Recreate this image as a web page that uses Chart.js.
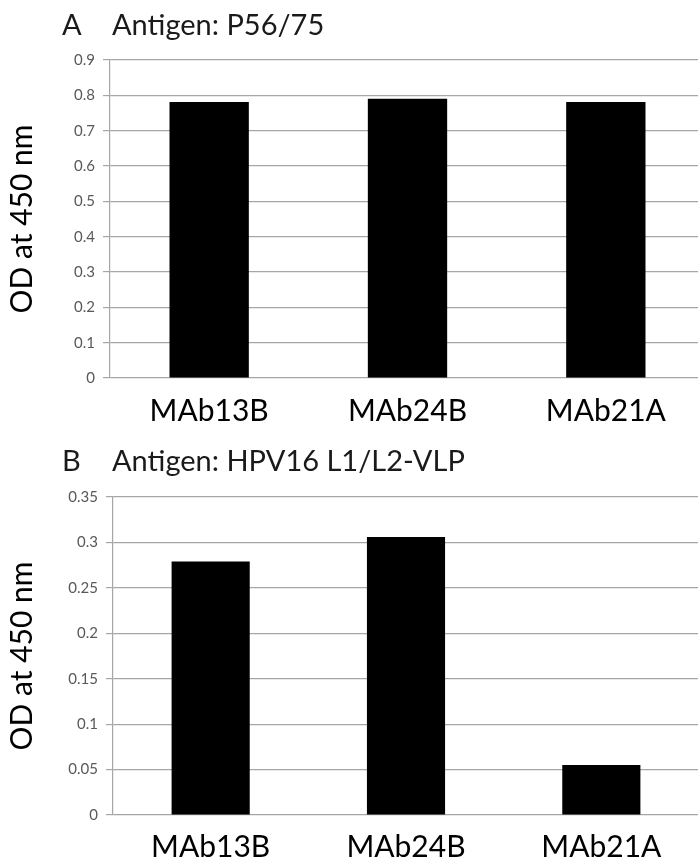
<!DOCTYPE html>
<html>
<head>
<meta charset="utf-8">
<script src="https://cdn.jsdelivr.net/npm/chart.js@4.4.1/dist/chart.umd.min.js"></script>
<style>
  html, body {
    margin: 0;
    padding: 0;
    background: #ffffff;
    width: 698px;
    height: 860px;
    overflow: hidden;
    font-family: Lato, "Open Sans", sans-serif;
  }
  .panel {
    position: relative;
    width: 710px;
    height: 430px;
  }
  .panel-title {
    position: absolute;
    left: 62px;
    font-size: 29px;
    color: #1a1a1a;
    white-space: pre;
    line-height: 1;
  }
  .panel-title span {
    display: inline-block;
    width: 50px;
  }
</style>
</head>
<body>
<div class="panel">
  <div class="panel-title" style="top: 9px;"><span>A</span>Antigen: P56/75</div>
  <canvas id="chartA"></canvas>
</div>
<div class="panel">
  <div class="panel-title" style="top: 15px;"><span>B</span>Antigen: HPV16 L1/L2-VLP</div>
  <canvas id="chartB"></canvas>
</div>
<script>
const antibodies = ["MAb13B", "MAb24B", "MAb21A"];
const odP5675 = [0.781, 0.79, 0.781];
const odHpv16 = [0.279, 0.306, 0.055];
const ticksA = { max: 0.9, step: 0.1 };
const ticksB = { max: 0.35, step: 0.05 };

const axisGrey = "#a6a6a6";
const fontFamily = "Lato, 'Open Sans', sans-serif";

function buildChart(canvas, values, yTicks, frame) {
  return new Chart(canvas, {
    type: "bar",
    data: {
      labels: antibodies,
      datasets: [
        {
          data: values,
          backgroundColor: "#000000",
          borderWidth: 0,
          barPercentage: 0.4,
          categoryPercentage: 1,
        },
      ],
    },
    options: {
      responsive: true,
      maintainAspectRatio: false,
      animation: false,
      layout: {
        padding: { top: frame.top, right: frame.right, left: 0, bottom: 0 },
      },
      plugins: {
        legend: { display: false },
        tooltip: { enabled: false },
      },
      scales: {
        x: {
          grid: { display: false },
          border: { display: false },
          ticks: {
            color: "#000000",
            padding: frame.labelPad,
            font: { family: fontFamily, size: 30 },
          },
          afterFit: (scale) => {
            scale.height = frame.xHeight;
          },
        },
        y: {
          min: 0,
          max: yTicks.max,
          grid: {
            color: axisGrey,
            lineWidth: 1.2,
            tickLength: 7,
            tickColor: axisGrey,
          },
          border: { display: true, color: axisGrey, width: 1.2 },
          ticks: {
            stepSize: yTicks.step,
            color: "#595959",
            padding: 8,
            font: { family: fontFamily, size: 15 },
            callback: (v) => String(+v.toFixed(2)),
          },
          title: {
            display: true,
            text: "OD at 450 nm",
            color: "#000000",
            padding: 4,
            font: { family: fontFamily, size: 30 },
          },
          afterFit: (scale) => {
            scale.width = frame.yWidth;
          },
        },
      },
    },
  });
}

buildChart(document.getElementById("chartA"), odP5675, ticksA, {
  top: 60,
  right: 5,
  xHeight: 52,
  yWidth: 110,
  labelPad: 7,
});

buildChart(document.getElementById("chartB"), odHpv16, ticksB, {
  top: 67,
  right: 11,
  xHeight: 45,
  yWidth: 113,
  labelPad: 6,
});
</script>
</body>
</html>
